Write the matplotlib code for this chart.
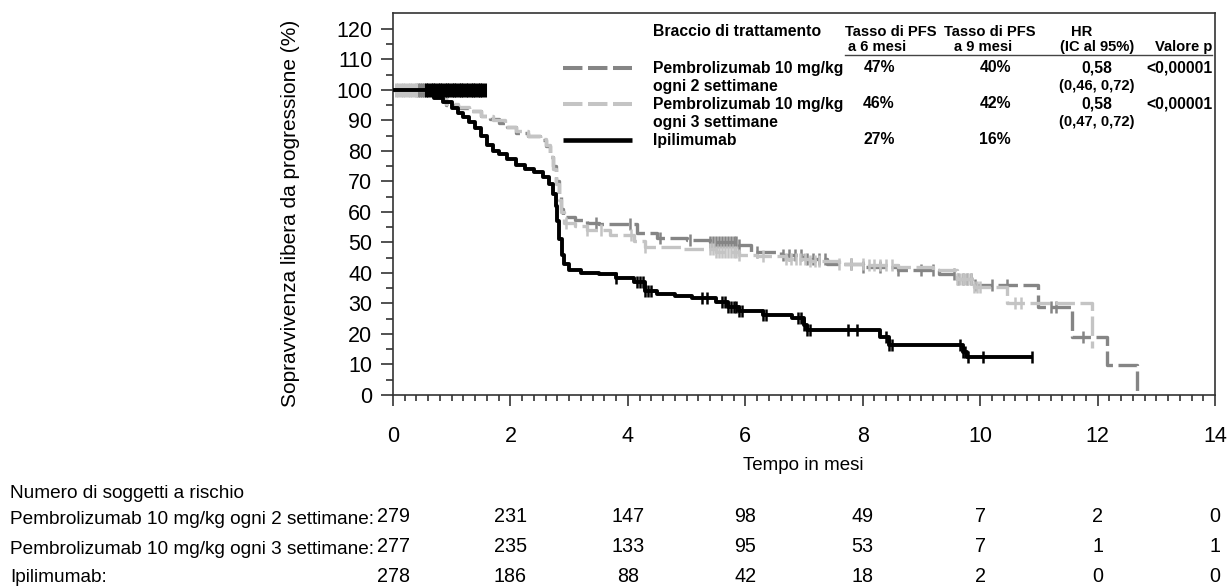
import numpy as np
import matplotlib
matplotlib.use("Agg")
import matplotlib.pyplot as plt
from matplotlib.lines import Line2D
from matplotlib.transforms import blended_transform_factory

plt.rcParams['font.family'] = ['Liberation Sans', 'DejaVu Sans']
plt.rcParams['lines.scale_dashes'] = False

# ---- Kaplan-Meier step data (months, % progression-free) ----
q2_t = [0, 0.6, 0.9, 1.1, 1.3, 1.5, 1.65, 1.8, 1.95, 2.1, 2.3, 2.5, 2.6, 2.68, 2.73,
        2.78, 2.82, 2.86, 2.9, 3.1, 3.3, 3.5, 4.15, 4.5, 5.0, 5.4, 5.9, 6.1, 6.6, 7.0,
        7.4, 8.0, 8.6, 9.3, 9.6, 9.9, 10.99, 11.57, 12.16, 12.67]
q2_s = [100, 98.5, 95, 94, 93, 91.5, 90.5, 89, 88, 86, 85, 83.5, 81.5, 78, 75,
        70, 65, 61, 58.5, 57.5, 56.5, 56, 53.1, 51.5, 50.8, 50, 49, 47, 46, 44.5,
        43, 42, 41, 39.5, 38, 36, 28.9, 19.0, 9.8, 0]
q2_cens = [3.45, 4.04, 4.55, 5.06, 5.4, 5.45, 5.5, 5.55, 5.6, 5.65, 5.7, 5.75, 5.8,
           5.85, 5.9, 6.2, 6.65, 6.75, 6.85, 6.95, 7.05, 7.15, 7.25, 7.35, 7.8, 8.0,
           8.3, 8.6, 9.0, 9.2, 9.55, 9.62, 9.7, 9.78, 9.85, 9.92, 10.2, 10.45, 11.2,
           11.3, 11.75]
q2_cens_top = [0.42, 0.46, 0.5, 0.53]

q3_t = [0, 0.6, 0.9, 1.1, 1.3, 1.5, 1.7, 1.9, 2.1, 2.3, 2.5, 2.6, 2.68, 2.73, 2.78,
        2.82, 2.86, 2.92, 3.1, 3.3, 3.7, 4.1, 4.3, 4.9, 5.5, 5.9, 6.2, 6.7, 7.1, 7.6,
        8.1, 8.6, 9.2, 9.6, 9.9, 10.46, 11.9]
q3_s = [100, 98.5, 95.5, 94.5, 93, 91.5, 90, 88, 86.5, 85, 84, 82, 78, 74, 69,
        64, 60, 56.5, 55.5, 54, 52.5, 50.5, 48.5, 48, 47, 46, 45.5, 44.5, 44, 43,
        42.5, 42, 41, 38, 35.4, 30.2, 15.4]
q3_cens = [2.95, 3.3, 3.55, 4.05, 4.3, 5.4, 5.45, 5.5, 5.55, 5.6, 5.65, 5.7, 5.75,
           5.8, 5.85, 5.9, 6.3, 6.7, 6.78, 6.86, 6.94, 7.02, 7.1, 7.18, 7.26, 7.6,
           7.8, 8.0, 8.1, 8.2, 8.3, 8.4, 8.5, 9.6, 9.65, 9.7, 9.75, 9.8, 9.85, 9.9,
           9.95, 10.0, 10.6, 10.7]
q3_cens_top = [0.05, 0.09, 0.13, 0.17, 0.21, 0.25, 0.29, 0.33, 0.37, 0.4]

ipi_t = [0, 0.6, 0.7, 0.85, 1.0, 1.1, 1.2, 1.3, 1.4, 1.5, 1.6, 1.7, 1.8, 1.95, 2.1,
         2.25, 2.4, 2.55, 2.65, 2.72, 2.77, 2.8, 2.83, 2.87, 2.92, 3.0, 3.2, 3.5, 3.8,
         4.1, 4.3, 4.5, 4.8, 5.1, 5.5, 5.7, 5.9, 6.3, 6.8, 7.0, 7.05, 8.3, 8.45, 9.7,
         9.78, 10.88]
ipi_s = [100, 98.5, 97.5, 96, 94, 92.5, 91, 89.5, 87.5, 85, 82, 80, 79, 77.5, 75.5,
         74, 73, 71.5, 69, 66, 62, 57, 51, 46, 43, 41, 40, 39.5, 38.5,
         37, 34, 33, 32.5, 31.8, 30.5, 29, 27.5, 26.2, 25.2, 23, 21.3, 19, 16.4, 14,
         12.5, 12.5]
ipi_cens = [3.8, 4.15, 4.2, 4.25, 4.3, 4.35, 4.4, 5.27, 5.35, 5.6, 5.65, 5.7, 5.75,
            5.8, 5.85, 5.9, 5.95, 6.3, 6.35, 6.9, 6.95, 7.0, 7.05, 7.1, 7.75, 7.9,
            8.4, 8.45, 8.5, 9.65, 9.7, 9.75, 9.8, 10.05, 10.88]
ipi_cens_top = [0.56, 0.6, 0.64, 0.68, 0.72, 0.76, 0.8, 0.84, 0.88, 0.92, 0.96, 1.0,
                1.04, 1.08, 1.12, 1.16, 1.2, 1.24, 1.28, 1.32, 1.36, 1.4, 1.44, 1.48,
                1.52, 1.56]

# ---- numbers at risk ----
risk_times = [0, 2, 4, 6, 8, 10, 12, 14]
risk_labels = ["Pembrolizumab 10 mg/kg ogni 2 settimane:",
               "Pembrolizumab 10 mg/kg ogni 3 settimane:",
               "Ipilimumab:"]
risk_q2 = [279, 231, 147, 98, 49, 7, 2, 0]
risk_q3 = [277, 235, 133, 95, 53, 7, 1, 1]
risk_ipi = [278, 186, 88, 42, 18, 2, 0, 0]

# ---- summary table ----
arm_names = [["Pembrolizumab 10 mg/kg", "ogni 2 settimane"],
             ["Pembrolizumab 10 mg/kg", "ogni 3 settimane"],
             ["Ipilimumab"]]
pfs6 = ["47%", "46%", "27%"]
pfs9 = ["40%", "42%", "16%"]
hr = ["0,58", "0,58", ""]
hr_ci = ["(0,46, 0,72)", "(0,47, 0,72)", ""]
pval = ["<0,00001", "<0,00001", ""]

DARK = "#858585"
LIGHT = "#c4c4c4"
BLACK = "#000000"
styles = [dict(color=DARK, lw=2.4, dashes=(14, 4)),
          dict(color=LIGHT, lw=2.4, dashes=(14, 4)),
          dict(color=BLACK, lw=2.8)]

W, H = 1227, 588
fig = plt.figure(figsize=(W / 100, H / 100), dpi=100)
ax = fig.add_axes([393 / W, 1 - 395 / H, (1215 - 393) / W, (395 - 13) / H])


def surv_at(t, s, ct):
    idx = np.searchsorted(np.asarray(t), np.asarray(ct), side="right") - 1
    return np.asarray(s)[idx]


curves = [(q2_t, q2_s, q2_cens, q2_cens_top),
          (q3_t, q3_s, q3_cens, q3_cens_top),
          (ipi_t, ipi_s, ipi_cens, ipi_cens_top)]
order = [1, 0, 2]
for i in order:
    t, s, cens, top = curves[i]
    st = styles[i]
    kw = dict(color=st["color"], lw=st["lw"], drawstyle="steps-post",
              solid_capstyle="butt", dash_capstyle="butt", zorder=2 + i)
    if "dashes" in st:
        kw["dashes"] = st["dashes"]
    ax.plot(t, s, **kw)
    ax.plot(cens, surv_at(t, s, cens), ls="none", marker="|", ms=8, mew=1.8,
            color=st["color"], zorder=2 + i)
    ax.plot(top, [100] * len(top), ls="none", marker="|", ms=10, mew=2.2,
            color=st["color"], zorder=2 + i)

ax.set_xlim(0, 14)
ax.set_ylim(0, 125.2)
ax.set_xticks(np.arange(0, 15, 2))
ax.set_xticks(np.arange(0, 14.01, 0.2), minor=True)
ax.set_yticks(np.arange(0, 121, 10))
ax.set_yticks(np.arange(5, 121, 10), minor=True)
ax.tick_params(axis="both", which="both", direction="out", color="#333333", width=1.2)
ax.tick_params(axis="x", which="major", length=8, pad=14, labelsize=15.5)
ax.tick_params(axis="x", which="minor", length=4)
ax.tick_params(axis="y", which="major", length=9, pad=6, labelsize=15.5)
ax.tick_params(axis="y", which="minor", length=5)
for sp in ax.spines.values():
    sp.set_color("#333333")
    sp.set_linewidth(1.2)

def fx(px):
    return px / W

def fy(py):
    return 1 - py / H

fig.text(fx(290), fy(213), "Sopravvivenza libera da progressione (%)", rotation=90,
         ha="center", va="center", fontsize=15)
fig.text(fx(803), fy(466), "Tempo in mesi", ha="center", va="center", fontsize=13.5)

# summary table inside the plot
bold = dict(fontsize=11.3, fontweight="bold", va="center")
hdr = dict(fontsize=10.6, fontweight="bold", va="center")
fig.text(fx(653), fy(32), "Braccio di trattamento", ha="left", **bold)
fig.text(fx(845), fy(32), "Tasso di PFS", ha="left", **hdr)
fig.text(fx(877), fy(47), "a 6 mesi", ha="center", **hdr)
fig.text(fx(944), fy(32), "Tasso di PFS", ha="left", **hdr)
fig.text(fx(983), fy(47), "a 9 mesi", ha="center", **hdr)
fig.text(fx(1082), fy(32), "HR", ha="center", **hdr)
fig.text(fx(1097), fy(47), "(IC al 95%)", ha="center", **hdr)
fig.text(fx(1212), fy(47), "Valore p", ha="right", **hdr)
fig.add_artist(Line2D([fx(845), fx(1212)], [fy(54.5), fy(54.5)], color="#444444", lw=1.0))

row_y = [68, 104, 140]
for i, y in enumerate(row_y):
    st = styles[i]
    kw = dict(color=st["color"], lw=st["lw"] + 0.5, solid_capstyle="butt",
              dash_capstyle="butt")
    if "dashes" in st:
        kw["dashes"] = (14, 4)
    fig.add_artist(Line2D([fx(563), fx(632)], [fy(y), fy(y)], **kw))
    for j, line in enumerate(arm_names[i]):
        fig.text(fx(653), fy(y + 18 * j), line, ha="left", **bold)
    fig.text(fx(879), fy(y), pfs6[i], ha="center", **bold)
    fig.text(fx(995), fy(y), pfs9[i], ha="center", **bold)
    if hr[i]:
        fig.text(fx(1097), fy(y), hr[i], ha="center", **bold)
        fig.text(fx(1097), fy(y + 18), hr_ci[i], ha="center", **hdr)
        fig.text(fx(1213), fy(y), pval[i], ha="right", **bold)

# numbers at risk
fig.text(fx(10), fy(494), "Numero di soggetti a rischio", ha="left", va="center",
         fontsize=13.7)
trans = blended_transform_factory(ax.transData, fig.transFigure)
for label, counts, ly, ny in zip(risk_labels, [risk_q2, risk_q3, risk_ipi],
                                 [520, 549, 577], [517, 546, 576]):
    fig.text(fx(10), fy(ly), label, ha="left", va="center", fontsize=13.7)
    for tm, c in zip(risk_times, counts):
        ax.text(tm, fy(ny), str(c), transform=trans, ha="center", va="center",
                fontsize=14.2, clip_on=False)

fig.savefig("out.png", dpi=100)
